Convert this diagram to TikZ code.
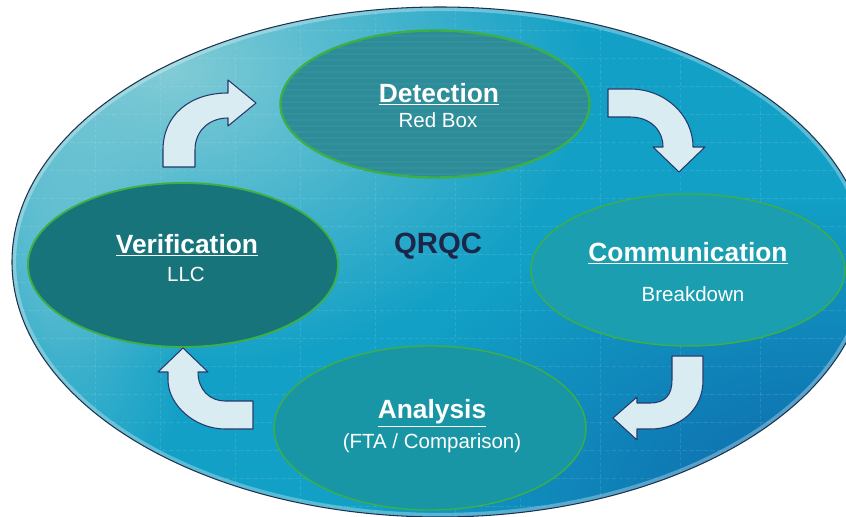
\documentclass[tikz,border=0pt]{standalone}
\usepackage{fontspec}
\setmainfont{Liberation Sans}
\usetikzlibrary{shapes.geometric,fadings}

\definecolor{bgTop}{RGB}{130,204,214}
\definecolor{bgMid}{RGB}{18,160,198}
\definecolor{bgBot}{RGB}{14,104,172}
\definecolor{rimNavy}{RGB}{30,50,80}
\definecolor{stageGreen}{RGB}{60,175,70}
\definecolor{detFill}{RGB}{44,140,152}
\definecolor{verFill}{RGB}{22,116,122}
\definecolor{comFill}{RGB}{26,158,176}
\definecolor{anaFill}{RGB}{24,150,166}
\definecolor{arrowFill}{RGB}{216,236,242}
\definecolor{arrowLine}{RGB}{38,56,108}
\definecolor{qrqcNavy}{RGB}{28,38,72}

\newcommand{\px}{0.03cm}

\tikzfading[name=softglow, inner color=transparent!0, outer color=transparent!100]

\tikzset{
  stage/.style={ellipse, draw=stageGreen, line width=1.2pt, inner sep=0pt},
  stagetitle/.style={text=white, font=\bfseries\fontsize{22.5}{26}\selectfont, inner sep=0pt},
  stagesub/.style={text=white, font=\fontsize{17.5}{21}\selectfont, inner sep=0pt},
  turnarrow/.style={fill=arrowFill, draw=arrowLine, line width=0.9pt, line join=round}
}

\begin{document}
\begin{tikzpicture}[x=\px, y=-\px]
\useasboundingbox (0,0) rectangle (846,517);

% outer disc: base colour, light glow at the upper left, deeper blue at the lower right
\fill[bgMid] (440,262) ellipse [x radius=428, y radius=255];
\begin{scope}
  \clip (440,262) ellipse [x radius=428, y radius=255];
  \fill[bgTop, path fading=softglow] (170,70) ellipse [x radius=420, y radius=300];
  \fill[bgTop, path fading=softglow, opacity=0.6] (60,260) ellipse [x radius=140, y radius=300];
  \fill[bgBot, path fading=softglow] (820,500) ellipse [x radius=460, y radius=300];
  % faint plaid texture inside the disc
  \foreach \gx in {95,160,235,300,375,455,520,600,680,760}
    \draw[white, opacity=0.10, line width=0.6pt, dash pattern=on 3pt off 2pt] (\gx,0) -- (\gx,517);
  \foreach \gy in {30,58,86,114,142,170,198,226,254,282,310,338,366,394,422,450,478,506}
    \draw[white, opacity=0.10, line width=0.6pt, dash pattern=on 4pt off 2pt] (0,\gy) -- (846,\gy);
  % light band along the rim
  \draw[white, opacity=0.3, line width=7pt] (440,262) ellipse [x radius=428, y radius=255];
\end{scope}
\draw[rimNavy, line width=0.9pt] (440,262) ellipse [x radius=428, y radius=255];

% the four stages
\node[stage, fill=detFill, minimum width=310*\px, minimum height=148*\px] (det) at (435,104) {};
\node[stage, fill=verFill, minimum width=310*\px, minimum height=164*\px, line width=1.6pt] (ver) at (183,265) {};
\node[stage, fill=comFill, minimum width=314*\px, minimum height=152*\px] (com) at (688,270) {};
\node[stage, fill=anaFill, minimum width=312*\px, minimum height=164*\px] (ana) at (430,428) {};

% streaks across the Detection stage
\begin{scope}
  \clip (435,104) ellipse [x radius=154, y radius=73];
  \foreach \sy in {36,42,...,176}
    \draw[white, opacity=0.04, line width=1.2pt] (280,\sy) -- (590,\sy);
\end{scope}
\draw[stageGreen, line width=1.2pt] (435,104) ellipse [x radius=154, y radius=73];

% stage labels
\node[stagetitle] (detT) at (439,94) {\underline{Detection}};
\node[stagesub]   (detS) at (438,120) {Red Box};
\node[stagetitle] (verT) at (187,245) {\underline{Verification}};
\node[stagesub]   (verS) at (186,274) {LLC};
\node[stagetitle] (comT) at (688,253) {\underline{Communication}};
\node[stagesub]   (comS) at (693,294) {Breakdown};
\node[stagetitle] (anaT) at (432,413) {\underline{Analysis}};
\node[stagesub]   (anaS) at (432,443) {(FTA / Comparison)};

% centre label
\node[text=qrqcNavy, font=\bfseries\fontsize{25}{29}\selectfont, inner sep=0pt] (qrqc) at (438,246) {QRQC};

% curved block arrows between the stages
\draw[turnarrow] (163,167) -- (163,150) .. controls (163,115) and (190,93) .. (228,93)
  -- (228,80) -- (256,103) -- (228,126) -- (228,118)
  .. controls (210,118) and (195,130) .. (195,150) -- (195,167) -- cycle;
\draw[turnarrow] (608,89) -- (630,89) .. controls (665,89) and (693,115) .. (693,147)
  -- (705,147) -- (679,172) -- (653,147) -- (663,147)
  .. controls (663,130) and (650,117) .. (630,117) -- (608,117) -- cycle;
\draw[turnarrow] (672,356) -- (703,356) -- (703,380) .. controls (703,410) and (680,429) .. (650,429)
  -- (637,429) -- (637,440) -- (613,418) -- (637,397) -- (637,403) -- (650,403)
  .. controls (665,403) and (672,395) .. (672,380) -- cycle;
\draw[turnarrow] (253,401) -- (253,429) -- (225,429) .. controls (195,429) and (168,405) .. (168,380)
  -- (168,372) -- (158,372) -- (183,348) -- (208,372) -- (198,372)
  .. controls (198,390) and (210,401) .. (225,401) -- cycle;
\end{tikzpicture}
\end{document}
